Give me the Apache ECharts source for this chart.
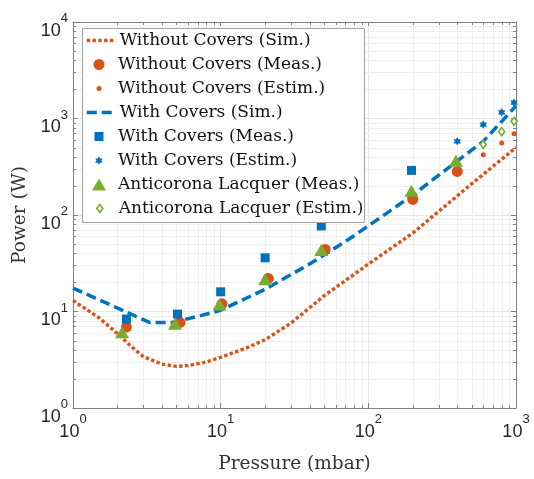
<!DOCTYPE html>
<html>
<head>
<meta charset="utf-8">
<script src="https://cdn.jsdelivr.net/npm/echarts@6/dist/echarts.min.js"></script>
<style>html,body{margin:0;padding:0;background:#fff}#c{width:534px;height:479px}</style>
</head>
<body>
<div id="c"></div>
<script>
// ---- data ----
const woSimX = [1, 1.5, 2, 2.5, 3, 4, 5, 6, 8, 10, 15, 20, 30, 50, 100, 200, 500, 1000];
const woSimY = [13, 8.6, 5.9, 4.3, 3.4, 2.85, 2.7, 2.75, 3.0, 3.35, 4.2, 5.1, 7.6, 14.5, 31, 65, 210, 500];
const wcSimX = [1, 3.3, 4.7, 7, 10, 20, 40, 75, 190, 600, 1000];
const wcSimY = [17.5, 7.7, 7.7, 8.9, 10.3, 17, 31, 57, 152, 580, 1350];
const woMeasX = [2.3, 5.3, 10.2, 21, 51, 200, 400];
const woMeasY = [6.9, 7.7, 12, 22, 44, 145, 283];
const woEstX = [600, 800, 970];
const woEstY = [420, 558, 694];
const wcMeasX = [2.3, 5.1, 10, 20, 48, 196];
const wcMeasY = [8.35, 9.4, 16, 36, 77, 290];
const wcEstX = [400, 600, 800, 970];
const wcEstY = [580, 866, 1160, 1460];
const acMeasX = [2.15, 4.9, 9.8, 20, 48, 196, 392];
const acMeasY = [6.1, 7.45, 11.8, 21.6, 43.5, 178, 365];
const acEstX = [600, 800, 970];
const acEstY = [538, 731, 937];
const seriesNames = [
  'Without Covers (Sim.)', 'Without Covers (Meas.)', 'Without Covers (Estim.)',
  'With Covers (Sim.)', 'With Covers (Meas.)', 'With Covers (Estim.)',
  'Anticorona Lacquer (Meas.)', 'Anticorona Lacquer (Estim.)'
];
const xRange = [1, 1000];
const yRange = [1, 10000];
const xAxisTitle = 'Pressure (mbar)';
const yAxisTitle = 'Power (W)';

// ---- helpers ----
const zip = (xs, ys) => xs.map((x, i) => [x, ys[i]]);
const minorVals = (lo, hi) => {
  const out = [];
  for (let d = lo; d < hi; d *= 10) for (let k = 2; k <= 9; k++) out.push(d * k);
  return out;
};
const ORANGE = '#D95319', BLUE = '#0072BD', GREEN = '#77AC30';
const serif = 'DejaVu Serif';
const sans = 'Liberation Sans';
const hexagram = 'path://M0,-10L2.887,-5L8.660,-5L5.774,0L8.660,5L2.887,5L0,10L-2.887,5L-8.660,5L-5.774,0L-8.660,-5L-2.887,-5Z';
const expLabel = v => '{b|10}{s|' + Math.round(Math.log10(v)) + '}';
const richTick = {
  b: { fontFamily: sans, fontSize: 18, color: '#262626', lineHeight: 28, verticalAlign: 'bottom' },
  s: { fontFamily: sans, fontSize: 13, color: '#262626', lineHeight: 14, verticalAlign: 'top' }
};

const chart = echarts.init(document.getElementById('c'), null, { renderer: 'canvas' });

const minorX = minorVals(xRange[0], xRange[1]).map(v => [v, 1]);
const minorY = minorVals(yRange[0], yRange[1]).map(v => [1, v]);

function minorRender(dir) {
  return function (params, api) {
    const cs = params.coordSys;
    const p = api.coord([api.value(0), api.value(1)]);
    const ls = { stroke: '#efefef', lineWidth: 1 };
    const ts = { stroke: '#808080', lineWidth: 1 };
    if (dir === 'x') {
      const x = Math.round(p[0]) + 0.5;
      return { type: 'group', children: [
        { type: 'line', shape: { x1: x, y1: cs.y, x2: x, y2: cs.y + cs.height }, style: ls },
        { type: 'line', shape: { x1: x, y1: cs.y + cs.height, x2: x, y2: cs.y + cs.height - 3 }, style: ts },
        { type: 'line', shape: { x1: x, y1: cs.y, x2: x, y2: cs.y + 3 }, style: ts }
      ] };
    } else {
      const y = Math.round(p[1]) + 0.5;
      return { type: 'group', children: [
        { type: 'line', shape: { x1: cs.x, y1: y, x2: cs.x + cs.width, y2: y }, style: ls },
        { type: 'line', shape: { x1: cs.x, y1: y, x2: cs.x + 3, y2: y }, style: ts },
        { type: 'line', shape: { x1: cs.x + cs.width, y1: y, x2: cs.x + cs.width - 3, y2: y }, style: ts }
      ] };
    }
  };
}

const baseAxis = {
  type: 'log', logBase: 10,
  axisLine: { show: true, lineStyle: { color: '#808080', width: 1 } },
  axisTick: { show: true, inside: true, length: 5, lineStyle: { color: '#808080' } },
  splitLine: { show: false }
};

// legend rows: line items use the full icon width; marker items get their own icon box
const legendRows = [
  { name: seriesNames[0], line: true },
  { name: seriesNames[1], w: 11, h: 11 },
  { name: seriesNames[2], w: 5, h: 5 },
  { name: seriesNames[3], line: true },
  { name: seriesNames[4], w: 9, h: 9 },
  { name: seriesNames[5], w: 7.5, h: 8.5 },
  { name: seriesNames[6], w: 14, h: 12 },
  { name: seriesNames[7], w: 6, h: 8 }
];
const ICON_CX = 99, TEXT_X = 118;
const legends = legendRows.map((r, i) => {
  const w = r.line ? 28 : r.w;
  const h = r.line ? 12 : r.h;
  const left = r.line ? 85 : ICON_CX - w / 2;
  const padL = TEXT_X - (left + w + 5);
  const item = { name: r.name };
  if (r.line) {
    item.itemStyle = { opacity: 0 };
    item.lineStyle = { width: 'inherit', type: 'inherit' };
  } else {
    item.itemStyle = { borderWidth: 'inherit' };
  }
  return {
    data: [item],
    left: left, top: 31 + i * 24 - 0.5,
    itemWidth: w, itemHeight: h, padding: 0,
    selectedMode: false, z: 10,
    textStyle: { fontFamily: serif, fontSize: 17, color: '#111', lineHeight: 20, padding: [0, 0, 0, padL] }
  };
});

chart.setOption({
  animation: false,
  backgroundColor: '#fff',
  grid: { left: 73, right: 18, top: 22, bottom: 59, containLabel: false },
  legend: legends,
  graphic: [{
    type: 'rect', left: 82, top: 28, z: 9,
    shape: { width: 282, height: 194 },
    style: { fill: '#fff', stroke: '#a0a0a0', lineWidth: 1 }
  }],
  xAxis: [
    Object.assign({}, baseAxis, {
      min: xRange[0], max: xRange[1], position: 'bottom',
      splitLine: { show: true, lineStyle: { color: '#e4e4e4', width: 1 } },
      axisLabel: { margin: 5, formatter: expLabel, rich: richTick },
      name: xAxisTitle, nameLocation: 'middle', nameGap: 47,
      nameTextStyle: { fontFamily: serif, fontSize: 18.5, color: '#333' }
    }),
    Object.assign({}, baseAxis, {
      min: xRange[0], max: xRange[1], position: 'top', axisLabel: { show: false }
    })
  ],
  yAxis: [
    Object.assign({}, baseAxis, {
      min: yRange[0], max: yRange[1], position: 'left',
      splitLine: { show: true, lineStyle: { color: '#e4e4e4', width: 1 } },
      axisLabel: { margin: 5, formatter: expLabel, rich: richTick, padding: [8, 0, 0, 0] },
      name: yAxisTitle, nameLocation: 'middle', nameGap: 32,
      nameTextStyle: { fontFamily: serif, fontSize: 18.5, color: '#333' }
    }),
    Object.assign({}, baseAxis, {
      min: yRange[0], max: yRange[1], position: 'right', axisLabel: { show: false }
    })
  ],
  series: [
    { type: 'custom', name: 'minorX', data: minorX, renderItem: minorRender('x'), silent: true, z: 1, xAxisIndex: 0, yAxisIndex: 0 },
    { type: 'custom', name: 'minorY', data: minorY, renderItem: minorRender('y'), silent: true, z: 1, xAxisIndex: 0, yAxisIndex: 0 },
    { type: 'line', name: seriesNames[0], data: zip(woSimX, woSimY), symbol: 'none', smooth: false,
      lineStyle: { color: ORANGE, width: 3.4, type: [3.4, 2.4] }, itemStyle: { color: ORANGE }, z: 3 },
    { type: 'scatter', name: seriesNames[1], data: zip(woMeasX, woMeasY), symbol: 'circle', symbolSize: 11,
      itemStyle: { color: ORANGE, opacity: 1 }, z: 4 },
    { type: 'scatter', name: seriesNames[2], data: zip(woEstX, woEstY), symbol: 'circle', symbolSize: 5,
      itemStyle: { color: ORANGE, opacity: 1 }, z: 4 },
    { type: 'line', name: seriesNames[3], data: zip(wcSimX, wcSimY), symbol: 'none', smooth: false,
      lineStyle: { color: BLUE, width: 3.5, type: [10, 5] }, itemStyle: { color: BLUE }, z: 3 },
    { type: 'scatter', name: seriesNames[4], data: zip(wcMeasX, wcMeasY), symbol: 'rect', symbolSize: 9,
      itemStyle: { color: BLUE, opacity: 1 }, z: 4 },
    { type: 'scatter', name: seriesNames[5], data: zip(wcEstX, wcEstY), symbol: hexagram, symbolSize: [7.5, 8.5],
      itemStyle: { color: BLUE, opacity: 1 }, z: 4 },
    { type: 'scatter', name: seriesNames[6], data: zip(acMeasX, acMeasY), symbol: 'triangle', symbolSize: [14, 12],
      itemStyle: { color: GREEN, opacity: 1 }, z: 5 },
    { type: 'scatter', name: seriesNames[7], data: zip(acEstX, acEstY), symbol: 'diamond', symbolSize: [6, 8],
      itemStyle: { color: '#fff', borderColor: GREEN, borderWidth: 1.6, opacity: 1 }, z: 5 }
  ]
});
</script>
</body>
</html>
